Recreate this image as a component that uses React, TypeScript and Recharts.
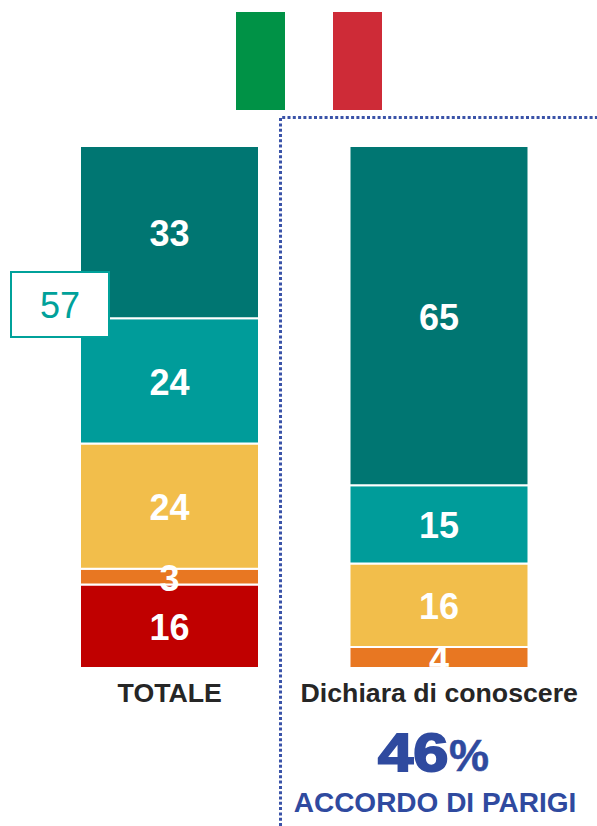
import React from 'react';
import { BarChart, Bar, XAxis, YAxis, LabelList } from 'recharts';

const CATEGORIES = ['TOTALE', 'Dichiara di conoscere'];
const MOLTO = [33, 65];
const ABBASTANZA = [24, 15];
const POCO = [24, 16];
const PER_NIENTE = [3, 4];
const NON_SA = [16, 0];

const data = CATEGORIES.map((name, i) => ({
  name,
  molto: MOLTO[i],
  abbastanza: ABBASTANZA[i],
  poco: POCO[i],
  perNiente: PER_NIENTE[i],
  nonSa: NON_SA[i],
}));

const SERIES = [
  { key: 'molto', color: '#007672' },
  { key: 'abbastanza', color: '#009C9A' },
  { key: 'poco', color: '#F2BE4B' },
  { key: 'perNiente', color: '#E87722' },
  { key: 'nonSa', color: '#C00000' },
];

const FONT = '"Liberation Sans", Arial, sans-serif';
const BLUE = '#2F4A9F';

function ValueLabel({ x, y, width, height, value }: any) {
  if (!value) return null;
  return (
    <text x={x + width / 2} y={y + height / 2} dy={14} textAnchor="middle" fontFamily={FONT} fontWeight={700} fontSize={36} fill="#fff">
      {value}
    </text>
  );
}

export default function App() {
  return (
    <div style={{ position: 'absolute', left: 0, top: 0, width: 597, height: 826, overflow: 'hidden', background: '#fff', fontFamily: FONT }}>
      {/* bandiera */}
      <div style={{ position: 'absolute', left: 236, top: 12, width: 49, height: 98, background: '#009246' }} />
      <div style={{ position: 'absolute', left: 333, top: 12, width: 49, height: 98, background: '#CE2B37' }} />

      {/* riquadro tratteggiato */}
      <svg width={597} height={826} style={{ position: 'absolute', left: 0, top: 0 }}>
        <path d="M280.5 826 V117.5 H597" fill="none" stroke="#3A53A8" strokeWidth={3} strokeDasharray="3 2.3" />
      </svg>

      <BarChart width={597} height={826} data={data} margin={{ top: 146, right: 23, bottom: 123, left: 35 }} barSize={179} style={{ position: 'absolute', left: 0, top: 0 }}>
        <YAxis hide domain={[0, 100]} />
        <XAxis dataKey="name" axisLine={false} tickLine={false} height={35} interval={0} tick={{ fontFamily: FONT, fontSize: 26.7, fontWeight: 700, fill: '#262626' }} tickMargin={9} />
        {[...SERIES].reverse().map((s) => (
          <Bar key={s.key} dataKey={s.key} stackId="a" fill={s.color} stroke="#fff" strokeWidth={2} isAnimationActive={false}>
            <LabelList dataKey={s.key} content={ValueLabel} />
          </Bar>
        ))}
      </BarChart>

      {/* box 57 */}
      <div style={{ position: 'absolute', left: 10, top: 271, width: 96, height: 63, border: '2px solid #00A19A', background: '#fff', color: '#00A19A', fontSize: 36, lineHeight: '65px', textAlign: 'center' }}>57</div>

      <div style={{ position: 'absolute', left: 378, top: 719, color: BLUE, fontWeight: 700, whiteSpace: 'nowrap', lineHeight: '66px' }}>
        <span style={{ display: 'inline-block', fontSize: 54, transform: 'scaleX(1.17)', transformOrigin: 'left center', width: 71, WebkitTextStroke: `2px ${BLUE}` }}>46</span>
        <span style={{ fontSize: 45, WebkitTextStroke: `0.5px ${BLUE}` }}>%</span>
      </div>
      <div style={{ position: 'absolute', left: 280, width: 310, top: 786, textAlign: 'center', color: BLUE, fontWeight: 700, fontSize: 28, lineHeight: '34px', whiteSpace: 'nowrap' }}>ACCORDO DI PARIGI</div>
    </div>
  );
}
